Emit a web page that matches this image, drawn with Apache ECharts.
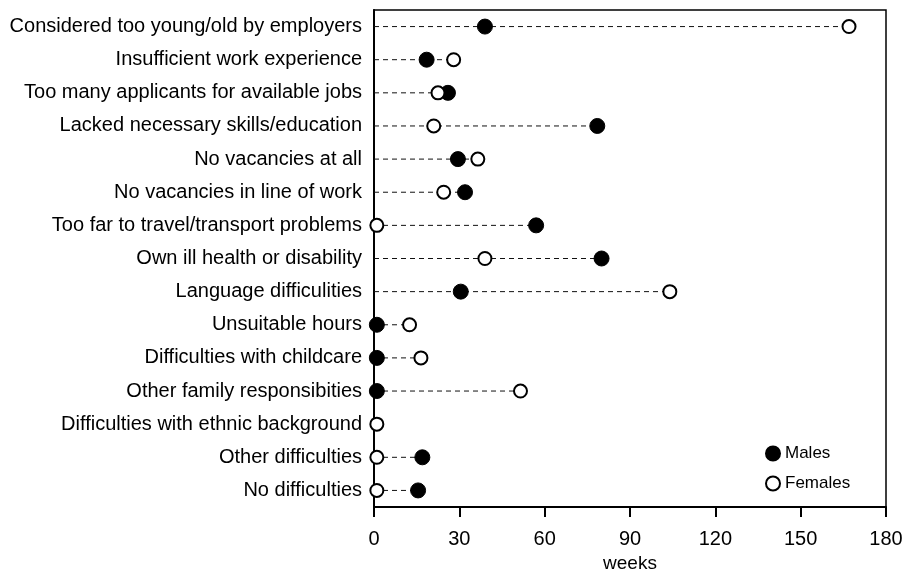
<!DOCTYPE html>
<html>
<head>
<meta charset="utf-8">
<script src="https://cdn.jsdelivr.net/npm/echarts@6/dist/echarts.min.js"></script>
<style>
  html, body { margin: 0; padding: 0; background: #fff; }
  #chart { width: 917px; height: 574px; }
</style>
</head>
<body>
<div id="chart"></div>
<script>
// reasons for difficulty finding work, top to bottom
const categories = [
    'Considered too young/old by employers',
    'Insufficient work experience',
    'Too many applicants for available jobs',
    'Lacked necessary skills/education',
    'No vacancies at all',
    'No vacancies in line of work',
    'Too far to travel/transport problems',
    'Own ill health or disability',
    'Language difficulities',
    'Unsuitable hours',
    'Difficulties with childcare',
    'Other family responsibities',
    'Difficulties with ethnic background',
    'Other difficulties',
    'No difficulties'
];
// weeks
const males = [39, 18.5, 26, 78.5, 29.5, 32, 57, 80, 30.5, 1, 1, 1, null, 17, 15.5];
const females = [167, 28, 22.5, 21, 36.5, 24.5, 1, 39, 104, 12.5, 16.5, 51.5, 1, 1, 1];
const xTicks = [0, 30, 60, 90, 120, 150, 180];

let chart = echarts.init(document.getElementById('chart'));

// one dashed guide per row, from 0 out to the furthest point
let guideData = categories.map(function (c, i) {
    let m = males[i] == null ? 0 : males[i];
    let f = females[i] == null ? 0 : females[i];
    return [Math.max(m, f), i];
});

let font = 'Liberation Sans';

chart.setOption({
    animation: false,
    textStyle: { fontFamily: font, color: '#000' },
    grid: {
        left: 374,
        right: 31,
        top: 10,
        bottom: 67,
        outerBoundsMode: 'none',
        containLabel: false,
        show: true,
        borderColor: '#000',
        borderWidth: 1.5
    },
    legend: {
        orient: 'vertical',
        left: 760,
        top: 440,
        itemWidth: 14,
        itemHeight: 14,
        itemGap: 13,
        textStyle: { fontFamily: font, fontSize: 17, color: '#000' },
        data: ['Males', 'Females']
    },
    xAxis: {
        type: 'value',
        min: xTicks[0],
        max: xTicks[xTicks.length - 1],
        interval: 30,
        name: 'weeks',
        nameLocation: 'middle',
        nameGap: 46,
        nameTextStyle: { fontFamily: font, fontSize: 19, color: '#000' },
        axisLine: { show: true, lineStyle: { color: '#000', width: 2 } },
        axisTick: { show: true, inside: false, length: 10, lineStyle: { color: '#000', width: 2 } },
        axisLabel: { fontFamily: font, fontSize: 20, color: '#000', margin: 22 },
        splitLine: { show: false }
    },
    yAxis: {
        type: 'category',
        inverse: true,
        data: categories,
        axisLine: { show: true, lineStyle: { color: '#000', width: 2 } },
        axisTick: { show: false },
        axisLabel: { fontFamily: font, fontSize: 20, color: '#000', margin: 12 },
        splitLine: { show: false }
    },
    series: [
        {
            type: 'custom',
            name: 'guides',
            silent: true,
            z: 1,
            data: guideData,
            renderItem: function (params, api) {
                let a = api.coord([0, api.value(1)]);
                let b = api.coord([api.value(0), api.value(1)]);
                return {
                    type: 'line',
                    shape: { x1: a[0], y1: a[1], x2: b[0], y2: b[1] },
                    style: { stroke: '#111', lineWidth: 1, lineDash: [5, 4] }
                };
            }
        },
        {
            type: 'scatter',
            name: 'Males',
            symbol: 'circle',
            symbolSize: 15,
            z: 3,
            itemStyle: { color: '#000', borderColor: '#000', borderWidth: 1, opacity: 1 },
            data: males.map(function (v, i) { return v == null ? null : [v, i]; })
        },
        {
            type: 'scatter',
            name: 'Females',
            symbol: 'circle',
            symbolSize: 13,
            z: 4,
            itemStyle: { color: '#fff', borderColor: '#000', borderWidth: 2, opacity: 1 },
            data: females.map(function (v, i) { return v == null ? null : [v, i]; })
        }
    ]
});
</script>
</body>
</html>
